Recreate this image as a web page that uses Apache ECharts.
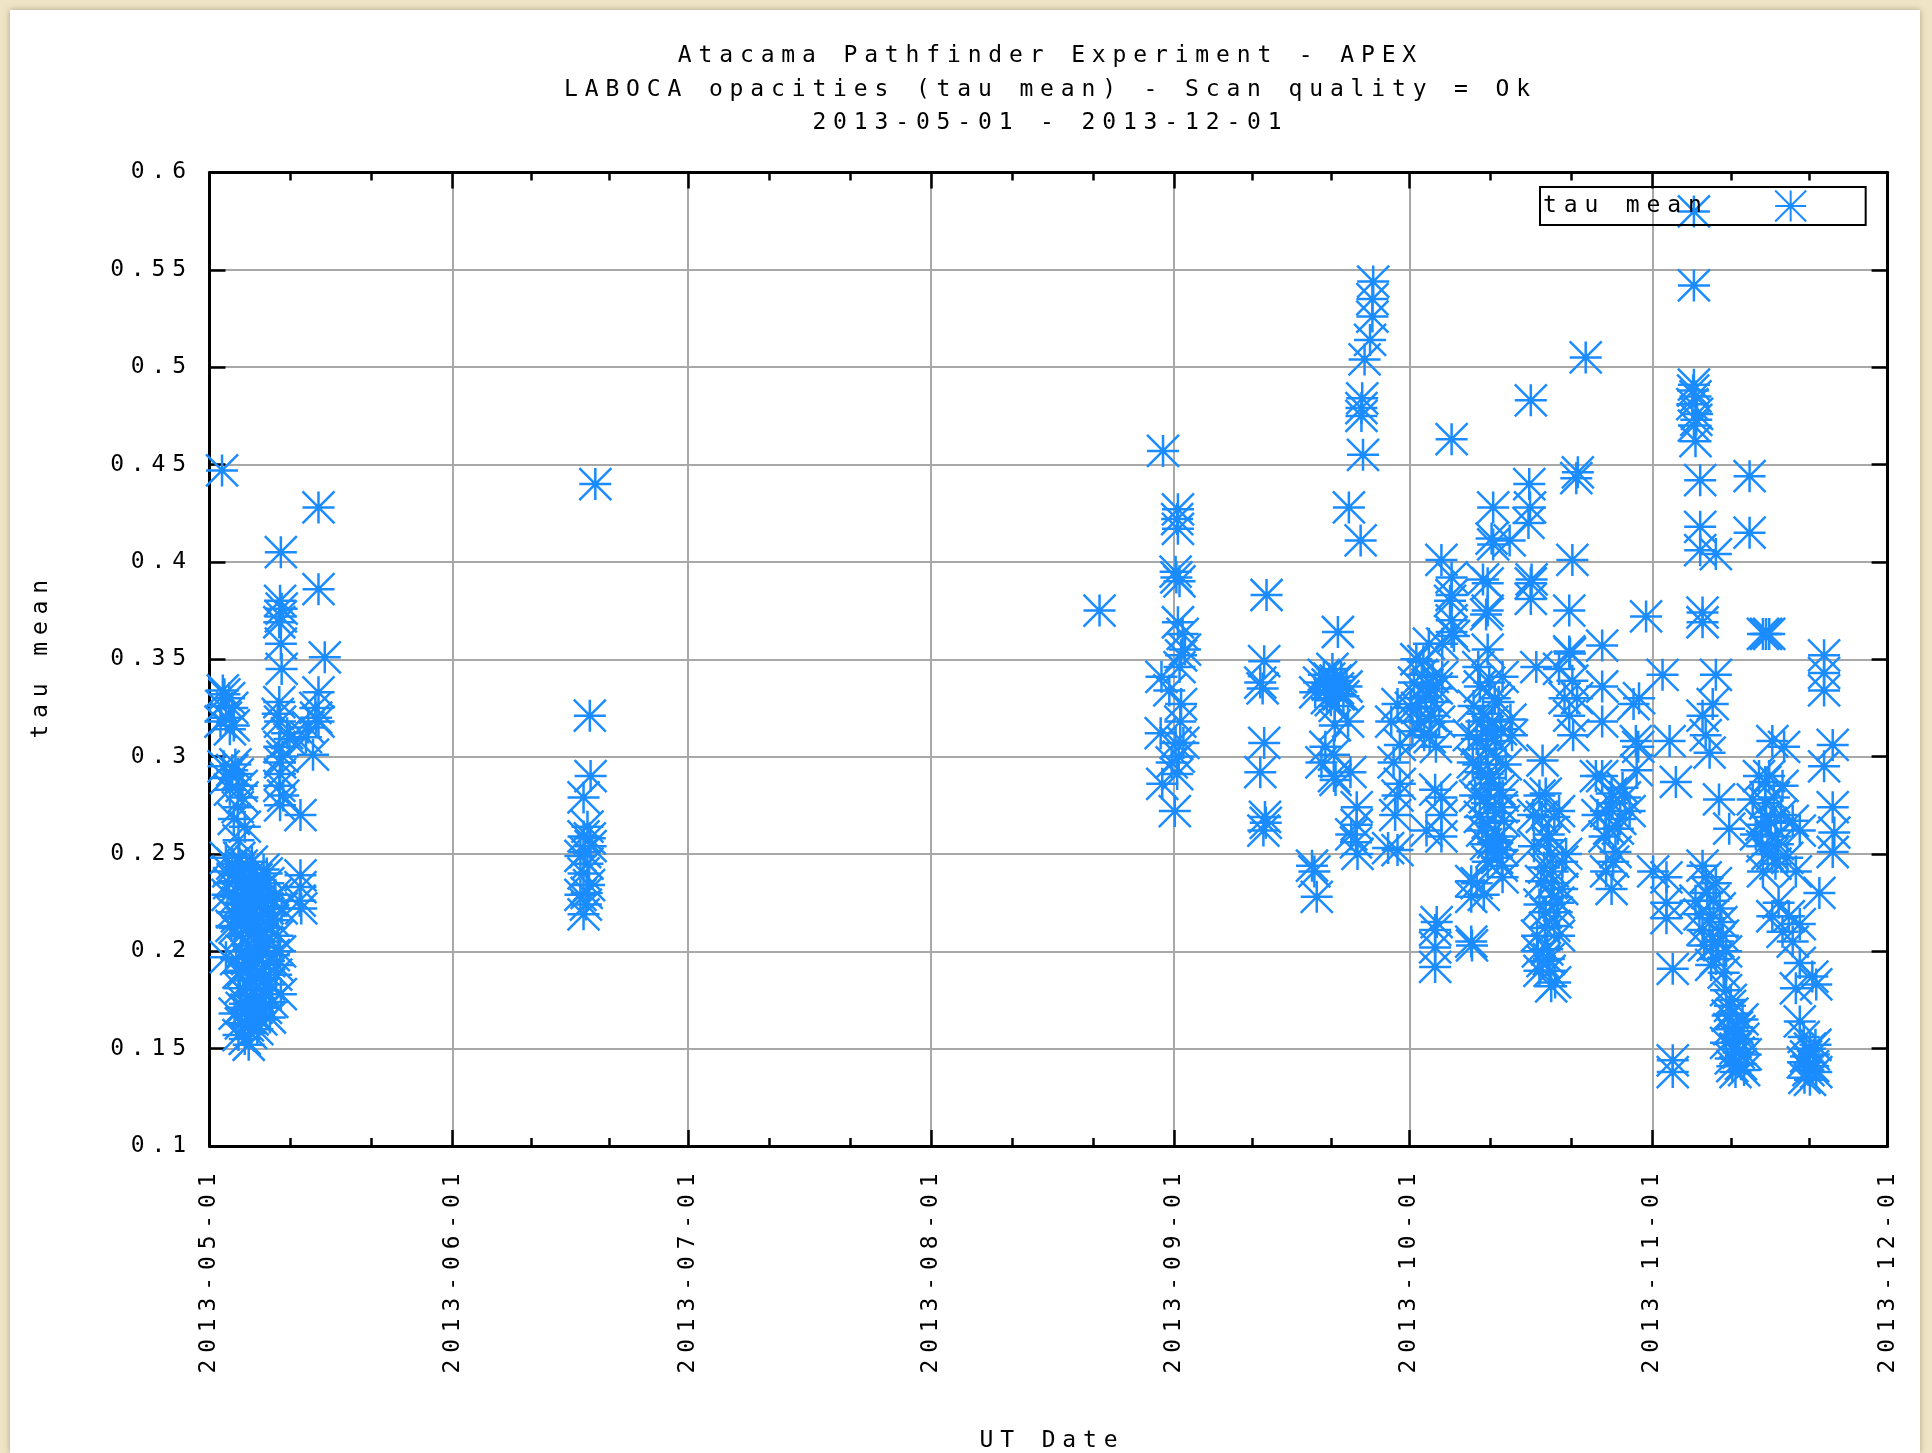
<!DOCTYPE html>
<html>
<head>
<meta charset="utf-8">
<script src="https://cdn.jsdelivr.net/npm/echarts@6/dist/echarts.min.js"></script>
<style>
  html, body { margin: 0; padding: 0; background: #efe5c6; width: 1932px; height: 1453px; overflow: hidden; }
  #chart { position: absolute; left: 10px; top: 10px; width: 1910px; height: 1443px; background: #fff;
           box-shadow: 0 0 6px rgba(90, 80, 50, 0.45); }
</style>
</head>
<body>
<div id="chart"></div>
<script>
// LABOCA tau mean per scan, grouped by month: [UT day of month (fractional), tau]
const may = [
  [2.6,0.447],
  [2.7,0.334],[3.5,0.330],[2.5,0.326],[3.9,0.325],[3.1,0.320],[2.4,0.318],[3.6,0.314],[2.9,0.332],[4.1,0.316],
  [3.9,0.293],[3.1,0.289],[4.6,0.291],[5.1,0.285],[3.6,0.283],[4.3,0.296],[2.8,0.295],
  [4.6,0.274],[4.1,0.268],[5.5,0.264],[4.7,0.257],[5.2,0.279],
  [3.1,0.248],[3.9,0.245],[5.7,0.243],[4.8,0.239],[3.5,0.235],[6.2,0.232],[3.3,0.229],[4.4,0.228],[5.3,0.224],
  [6.6,0.222],[3.9,0.220],[5.7,0.216],[7.0,0.237],[4.2,0.212],[3.1,0.197],
  [3.4,0.241],[4.2,0.236],[5.1,0.244],[6.0,0.238],[6.8,0.233],[7.6,0.227],[8.5,0.235],[9.4,0.229],[10.2,0.222],
  [4.6,0.225],[5.5,0.219],[6.3,0.226],[7.1,0.214],[8.0,0.219],[8.8,0.212],[9.7,0.208],[3.8,0.213],[5.0,0.208],
  [5.9,0.203],[6.7,0.210],[7.5,0.202],[8.3,0.205],[9.2,0.198],[10.0,0.200],
  [4.4,0.196],[5.3,0.190],[6.1,0.194],[7.0,0.186],[7.8,0.191],[8.6,0.183],[9.5,0.188],[10.1,0.178],[4.9,0.181],
  [5.8,0.177],[6.6,0.180],[7.4,0.176],[8.2,0.171],[9.0,0.174],
  [4.2,0.168],[5.0,0.163],[5.7,0.170],[6.5,0.165],[7.1,0.160],[4.7,0.157],[5.5,0.155],[6.3,0.158],[5.9,0.162],
  [4.8,0.248],[6.4,0.246],[7.9,0.242],[5.4,0.236],[7.3,0.231],[8.9,0.226],[4.5,0.218],[6.1,0.214],[7.7,0.210],
  [9.1,0.216],[5.2,0.200],[6.9,0.199],[8.6,0.195],[4.7,0.189],[6.3,0.185],[7.9,0.180],[5.5,0.173],[7.0,0.171],
  [8.7,0.166],[6.0,0.152],[6.8,0.167],[7.6,0.165],[5.1,0.171],[6.6,0.174],[8.1,0.186],[9.6,0.193],[5.8,0.196],
  [7.2,0.205],[8.4,0.222],[6.0,0.228],
  [8.3,0.240],
  [10.1,0.405],[10.0,0.380],[10.2,0.376],[10.1,0.372],[9.9,0.369],[10.1,0.358],[10.2,0.345],[9.9,0.328],[9.7,0.322],
  [10.0,0.318],[10.9,0.312],[11.2,0.309],[9.9,0.305],[10.3,0.300],[10.0,0.297],[10.0,0.291],[9.9,0.285],[10.4,0.280],[10.0,0.275],
  [12.6,0.270],[12.6,0.239],[12.6,0.233],[12.5,0.226],[12.7,0.222],
  [14.9,0.428],[14.9,0.386],[15.7,0.351],[14.9,0.333],[14.5,0.325],[14.6,0.320],[14.9,0.318],[13.6,0.315],[13.3,0.310],[14.2,0.301]
];
const jun = [
  [19.2,0.440],[18.5,0.321],[18.6,0.290],[17.7,0.279],
  [18.2,0.264],[18.5,0.258],[17.7,0.259],[18.6,0.254],[17.9,0.251],[17.3,0.249],[18.2,0.245],[17.7,0.240],
  [18.4,0.234],[18.1,0.230],[17.3,0.229],[18.0,0.224],[17.7,0.219]
];
const aug = [
  [22.5,0.375],[30.6,0.457],[30.4,0.341],[30.3,0.312],[30.5,0.286],[31.7,0.297],[31.4,0.334]
];
const sep = [
  [1.5,0.427],[1.5,0.417],[1.4,0.422],[1.3,0.392],[1.2,0.395],[1.7,0.390],[1.5,0.369],[2.1,0.363],[2.4,0.355],
  [1.9,0.352],[1.7,0.346],[1.9,0.327],[1.2,0.307],[2.2,0.307],[1.6,0.300],[1.4,0.291],[1.1,0.272],[1.8,0.318],
  [12.8,0.383],[12.5,0.349],[12.0,0.338],[12.3,0.335],[12.5,0.307],[12.0,0.292],[12.7,0.266],[12.4,0.262],[12.6,0.269],
  [18.9,0.241],[19.2,0.228],[18.6,0.244],
  [21.9,0.364],[20.8,0.340],[21.9,0.335],[20.5,0.330],[22.6,0.331],[21.5,0.326],[19.5,0.338],[23.0,0.336],[21.2,0.345],
  [20.1,0.342],[19.0,0.333],[22.3,0.341],[21.0,0.329],[20.6,0.337],[21.6,0.339],[22.0,0.332],
  [21.5,0.316],[23.2,0.318],[20.3,0.305],[21.4,0.301],[21.4,0.290],[23.5,0.292],[19.8,0.297],[21.6,0.288],
  [24.3,0.274],[24.3,0.265],[24.2,0.256],[24.4,0.250],[23.6,0.260],
  [26.4,0.544],[26.3,0.535],[26.3,0.526],[26.0,0.514],[25.3,0.504],[25.0,0.484],[24.9,0.479],[24.9,0.475],[25.1,0.455],
  [23.3,0.428],[24.8,0.411],
  [29.5,0.327],[28.7,0.318],[29.0,0.297],[29.5,0.280],[29.5,0.252],[29.8,0.306],[29.8,0.286],[28.3,0.253],[29.2,0.270]
];
const oct = [
  [1.4,0.313],[1.6,0.338],[2.0,0.325],[2.3,0.330],[2.8,0.349],[2.9,0.311],[3.1,0.331],[3.5,0.358],[3.8,0.321],
  [4.0,0.341],[4.5,0.335],[4.8,0.318],[5.2,0.341],[5.2,0.358],[5.1,0.401],
  [1.9,0.350],[2.6,0.342],[3.3,0.337],[4.2,0.328],[2.5,0.318],[3.6,0.310],[4.4,0.305],[1.2,0.325],
  [6.2,0.380],[6.4,0.392],[6.4,0.364],[6.4,0.383],[6.4,0.370],[6.7,0.362],[6.4,0.463],
  [3.2,0.262],[4.3,0.283],[5.1,0.279],[5.1,0.270],[5.1,0.259],
  [4.3,0.211],[4.5,0.215],[4.3,0.202],[4.3,0.192],
  [8.6,0.311],[9.1,0.297],[9.8,0.346],[10.0,0.336],[10.2,0.318],[11.2,0.338],[11.0,0.313],[11.9,0.330],[11.9,0.308],
  [12.4,0.328],[12.9,0.341],[13.9,0.319],[14.1,0.311],
  [10.4,0.391],[10.8,0.373],[11.0,0.389],[11.0,0.375],[11.0,0.355],[11.5,0.412],[11.7,0.428],[11.7,0.409],[13.8,0.411],
  [9.8,0.296],[11.0,0.291],[11.2,0.289],[10.6,0.279],[12.9,0.280],[12.8,0.274],[10.0,0.269],[11.0,0.266],[11.9,0.257],
  [12.4,0.259],[11.5,0.251],[11.0,0.246],[12.8,0.244],[12.9,0.238],[9.6,0.235],[10.5,0.229],
  [9.2,0.326],[10.4,0.322],[11.6,0.318],[12.7,0.314],[9.6,0.309],[10.8,0.304],[12.1,0.300],[13.3,0.296],[10.1,0.292],
  [11.4,0.286],[12.5,0.283],[9.4,0.280],[10.9,0.276],[12.0,0.271],[13.1,0.267],[10.3,0.262],[11.7,0.256],[12.9,0.252],
  [10.8,0.255],[12.2,0.248],
  [8.9,0.236],[8.9,0.228],[8.9,0.205],[9.0,0.203],
  [16.5,0.483],[16.3,0.440],[16.4,0.428],[16.2,0.420],[16.6,0.391],[16.5,0.389],[16.5,0.381],[17.2,0.346],
  [18.0,0.298],[17.6,0.280],[18.4,0.281],[16.8,0.270],[20.1,0.272],[19.5,0.269],[18.8,0.260],[18.6,0.257],[16.9,0.254],
  [21.0,0.250],[20.5,0.246],[18.2,0.243],[19.3,0.241],[19.1,0.235],[20.5,0.232],[17.6,0.224],[20.0,0.225],[18.4,0.220],
  [19.5,0.213],[17.3,0.208],[20.1,0.208],[18.6,0.201],[18.8,0.196],[18.0,0.195],[17.6,0.190],[19.6,0.184],[19.1,0.182],
  [17.9,0.269],[19.0,0.250],[17.8,0.236],[19.8,0.220],[18.9,0.190],[17.4,0.200],[18.3,0.212],[19.4,0.228],
  [23.5,0.505],[22.5,0.446],[22.3,0.443],[21.8,0.401],[21.4,0.375],[21.4,0.354],[20.1,0.345],[21.8,0.339],[20.8,0.330],
  [21.4,0.321],[21.5,0.353],[22.4,0.330],[21.9,0.311],
  [25.6,0.357],[25.6,0.336],[25.6,0.318],[25.6,0.290],[26.8,0.281],[28.2,0.284],[26.1,0.272],[29.1,0.272],[26.5,0.263],
  [27.3,0.251],[26.1,0.241],[26.8,0.232],[25.0,0.270],[27.6,0.263],[24.8,0.290],
  [26.9,0.276],[27.9,0.268],[25.9,0.259],[27.0,0.246],[28.5,0.279],
  [29.9,0.308],[30.0,0.293],[30.3,0.330],[29.6,0.327],[31.2,0.372],[30.2,0.305]
];
const nov = [
  [6.3,0.580],[6.3,0.542],
  [6.3,0.491],[6.5,0.485],[6.1,0.481],[6.7,0.476],[6.3,0.470],[6.5,0.462],[6.2,0.488],[6.6,0.473],
  [7.1,0.442],[13.4,0.444],[7.1,0.418],[7.1,0.406],[9.1,0.404],[13.4,0.415],
  [7.4,0.374],[7.4,0.369],[15.1,0.363],[15.5,0.363],
  [2.3,0.342],[9.1,0.342],[8.7,0.327],[7.4,0.321],[7.8,0.311],[8.3,0.302],
  [3.2,0.308],[4.0,0.287],[9.5,0.278],[10.8,0.263],[16.3,0.308],
  [14.6,0.290],[13.8,0.278],[15.5,0.269],[14.2,0.260],[16.3,0.250],[15.1,0.241],
  [15.4,0.287],[16.5,0.279],[17.4,0.270],[14.9,0.265],[16.1,0.266],[17.0,0.255],[15.7,0.250],[18.2,0.248],
  [1.1,0.241],[2.8,0.238],[2.8,0.225],[2.8,0.217],
  [3.6,0.191],[3.6,0.144],[3.6,0.138],
  [7.4,0.244],[9.1,0.235],[6.5,0.226],[8.3,0.217],[10.0,0.208],[7.4,0.211],[9.1,0.196],[8.0,0.230],[9.6,0.222],
  [7.0,0.219],[8.7,0.203],[10.4,0.200],
  [7.8,0.238],[8.8,0.226],[9.8,0.215],[7.6,0.203],[8.5,0.193],[9.4,0.205],[10.1,0.189],
  [10.4,0.180],[11.2,0.168],[12.1,0.159],[10.4,0.153],[12.9,0.147],[11.6,0.138],[11.0,0.175],[12.5,0.165],[10.8,0.160],
  [11.6,0.150],[12.3,0.142],[11.0,0.145],
  [10.9,0.172],[11.8,0.161],[12.6,0.155],[11.4,0.157],[10.6,0.167],[12.0,0.148],[11.2,0.141],[12.7,0.139],
  [15.9,0.363],[22.9,0.352],[22.9,0.343],[22.9,0.334],[17.8,0.305],[24.0,0.306],[22.9,0.295],[24.0,0.274],[24.2,0.261],[24.0,0.251],
  [15.9,0.290],[17.6,0.285],[15.4,0.276],[18.9,0.267],[19.8,0.262],[16.7,0.259],[15.0,0.254],[16.7,0.245],
  [19.3,0.241],[22.3,0.230],
  [17.1,0.225],[18.4,0.218],[16.3,0.218],[19.8,0.214],[17.6,0.210],[18.9,0.205],
  [19.8,0.194],[21.4,0.187],[19.3,0.181],[21.9,0.183],
  [19.8,0.164],[21.1,0.150],[20.2,0.143],[21.9,0.138],[21.1,0.134],[20.6,0.146],[21.5,0.141],
  [20.3,0.156],[21.6,0.147],[20.9,0.139],[20.4,0.135],[21.8,0.152]
];

const titleLines = [
  'Atacama Pathfinder Experiment - APEX',
  'LABOCA opacities (tau mean) - Scan quality = Ok',
  '2013-05-01 - 2013-12-01'
];
const seriesName = 'tau mean';
const xName = 'UT Date';
const yName = 'tau mean';

const DAY = 86400000;
function toTime(monthIndex, list) {
  return list.map(([d, v]) => [Date.UTC(2013, monthIndex, 1) + (d - 1) * DAY, v]);
}
const points = [].concat(
  toTime(4, may), toTime(5, jun), toTime(7, aug),
  toTime(8, sep), toTime(9, oct), toTime(10, nov)
);

// fixed-pitch character cells, like the plotter's bitmap font
const FONT = 'DejaVu Sans Mono';
const cellStyle = { width: 20.7, align: 'center', fontFamily: FONT, fontSize: 23, color: '#000' };
function cells(s) {
  return s.split('').map(ch => '{c|' + ch + '}').join('');
}
const BLUE = '#1a8cff';
const GRID = '#a8a8a8';
const star = 'path://M0,5L10,5M5,0L5,10M0,0L10,10M10,0L0,10';

const xMin = Date.UTC(2013, 4, 1);
const xMax = Date.UTC(2013, 11, 1);

const chart = echarts.init(document.getElementById('chart'), null, { renderer: 'canvas' });
const tickLine = { color: '#000', width: 2.5 };

chart.setOption({
  useUTC: true,
  animation: false,
  backgroundColor: '#fff',
  graphic: [{
    type: 'text',
    x: 1037, y: 80,
    silent: true,
    style: {
      text: titleLines.map(cells).join('\n'),
      textAlign: 'center',
      textVerticalAlign: 'middle',
      rich: { c: Object.assign({}, cellStyle, { lineHeight: 33.5 }) }
    }
  }],
  grid: { left: 199.5, top: 162.5, right: 32.4, bottom: 307, containLabel: false, outerBoundsMode: 'none' },
  legend: {
    left: 1530, top: 177,
    align: 'right',
    padding: [1, 57, 1, 3],
    itemWidth: 33, itemHeight: 31,
    borderColor: '#000', borderWidth: 2,
    selectedMode: false,
    formatter: name => cells(name) + '{sp| }',
    textStyle: { rich: { c: cellStyle, sp: { width: 64 } } },
    data: [seriesName]
  },
  xAxis: [{
    type: 'time',
    min: xMin, max: xMax,
    minInterval: 28 * DAY, maxInterval: 31 * DAY,
    splitNumber: 7,
    axisLine: { lineStyle: { color: '#000', width: 3 } },
    axisTick: { inside: true, length: 16, lineStyle: tickLine },
    minorTick: { show: true, splitNumber: 3, length: 8, lineStyle: tickLine },
    splitLine: { show: true, lineStyle: { color: GRID, width: 2 } },
    axisLabel: {
      rotate: 90, margin: 24,
      showMinLabel: true, showMaxLabel: true,
      formatter: v => cells(new Date(v).toISOString().slice(0, 10)),
      rich: { c: cellStyle }
    },
    name: cells(xName),
    nameLocation: 'middle',
    nameGap: 284,
    nameTextStyle: { rich: { c: cellStyle } }
  }, {
    type: 'time',
    position: 'top',
    min: xMin, max: xMax,
    minInterval: 28 * DAY, maxInterval: 31 * DAY,
    splitNumber: 7,
    axisLine: { lineStyle: { color: '#000', width: 3 } },
    axisTick: { inside: true, length: 16, lineStyle: tickLine },
    minorTick: { show: true, splitNumber: 3, length: 8, lineStyle: tickLine },
    splitLine: { show: false },
    axisLabel: { show: false }
  }],
  yAxis: [{
    type: 'value',
    min: 0.1, max: 0.6, interval: 0.05,
    axisLine: { show: true, lineStyle: { color: '#000', width: 3 } },
    axisTick: { show: true, inside: true, length: 16, lineStyle: tickLine },
    splitLine: { show: true, lineStyle: { color: GRID, width: 2 } },
    axisLabel: {
      margin: 20,
      formatter: v => cells(String(+v.toFixed(2))),
      rich: { c: cellStyle }
    },
    name: cells(yName),
    nameLocation: 'middle',
    nameRotate: 90,
    nameGap: 157,
    nameTextStyle: { rich: { c: cellStyle } }
  }, {
    type: 'value',
    position: 'right',
    min: 0.1, max: 0.6, interval: 0.05,
    axisLine: { show: true, lineStyle: { color: '#000', width: 3 } },
    axisTick: { show: true, inside: true, length: 16, lineStyle: tickLine },
    splitLine: { show: false },
    axisLabel: { show: false }
  }],
  series: [{
    name: seriesName,
    type: 'scatter',
    xAxisIndex: 0, yAxisIndex: 0,
    symbol: star,
    symbolSize: 32,
    symbolKeepAspect: true,
    itemStyle: { color: 'none', borderColor: BLUE, borderWidth: 2.5, opacity: 1 },
    emphasis: { disabled: true },
    silent: true,
    data: points
  }]
});
</script>
</body>
</html>
